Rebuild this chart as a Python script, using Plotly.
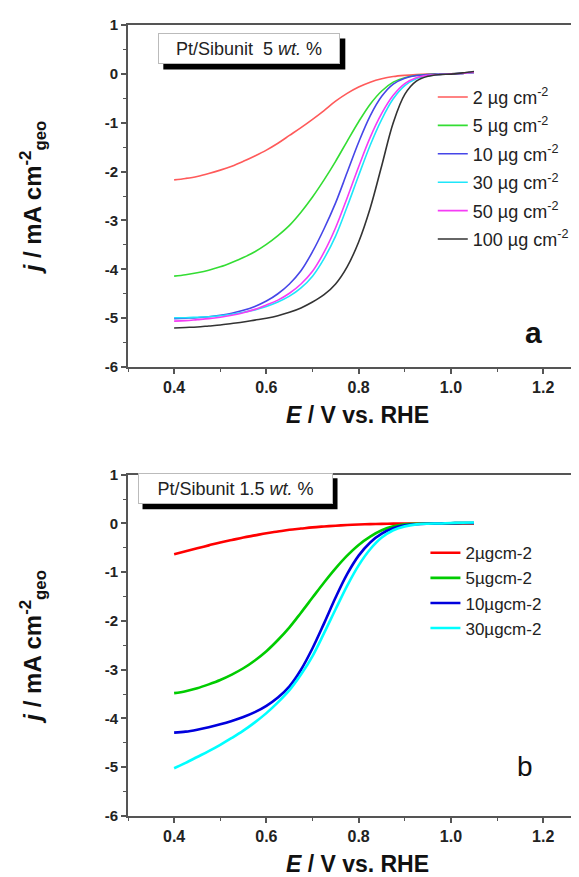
import plotly.graph_objects as go

# ---------------- data ----------------
E = [0.400, 0.425, 0.450, 0.475, 0.500, 0.525, 0.550, 0.575, 0.600, 0.625, 0.650, 0.675, 0.700,
     0.725, 0.750, 0.775, 0.800, 0.825, 0.850, 0.875, 0.900, 0.925, 0.950, 0.975, 1.000, 1.025, 1.050]

top_names = ["2 µg cm<sup>-2</sup>", "5 µg cm<sup>-2</sup>", "10 µg cm<sup>-2</sup>",
             "30 µg cm<sup>-2</sup>", "50 µg cm<sup>-2</sup>", "100 µg cm<sup>-2</sup>"]
j_top_2 = [-2.17, -2.14, -2.10, -2.04, -1.97, -1.89, -1.79, -1.68, -1.56, -1.42, -1.26, -1.10, -0.93,
           -0.75, -0.56, -0.40, -0.27, -0.17, -0.10, -0.055, -0.03, -0.015, -0.005, 0.0, 0.0, 0.01, 0.03]
j_top_5 = [-4.14, -4.11, -4.07, -4.02, -3.95, -3.86, -3.76, -3.64, -3.49, -3.31, -3.10, -2.83, -2.52,
           -2.17, -1.79, -1.38, -0.98, -0.62, -0.35, -0.17, -0.08, -0.035, -0.015, -0.005, 0.0, 0.01, 0.03]
j_top_10 = [-5.01, -5.00, -4.99, -4.97, -4.94, -4.90, -4.84, -4.76, -4.65, -4.50, -4.30, -4.03, -3.64,
            -3.17, -2.64, -2.02, -1.40, -0.86, -0.46, -0.21, -0.09, -0.035, -0.015, -0.005, 0.0, 0.01, 0.03]
j_top_30 = [-4.99, -4.99, -4.98, -4.97, -4.95, -4.92, -4.88, -4.83, -4.76, -4.67, -4.55, -4.38, -4.14,
            -3.78, -3.32, -2.72, -2.08, -1.46, -0.93, -0.51, -0.24, -0.10, -0.04, -0.01, 0.0, 0.01, 0.03]
j_top_50 = [-5.06, -5.05, -5.03, -5.01, -4.98, -4.94, -4.89, -4.82, -4.73, -4.63, -4.49, -4.30, -4.04,
            -3.65, -3.15, -2.54, -1.90, -1.30, -0.81, -0.44, -0.20, -0.08, -0.03, -0.01, 0.0, 0.01, 0.03]
j_top_100 = [-5.20, -5.19, -5.18, -5.16, -5.14, -5.11, -5.08, -5.04, -5.00, -4.95, -4.88, -4.79, -4.67,
             -4.52, -4.30, -3.95, -3.44, -2.75, -1.88, -1.00, -0.42, -0.15, -0.05, -0.015, -0.005, 0.02, 0.05]
top_colors = ["#ff5a5a", "#33dd33", "#4646e8", "#1ee6fa", "#f53cf5", "#333333"]

bot_names = ["2µgcm-2", "5µgcm-2", "10µgcm-2", "30µgcm-2"]
j_bot_2 = [-0.63, -0.57, -0.51, -0.45, -0.39, -0.34, -0.29, -0.245, -0.20, -0.165, -0.13, -0.105, -0.08,
           -0.062, -0.046, -0.033, -0.022, -0.014, -0.008, -0.004, -0.002, 0.0, 0.0, 0.0, 0.0, 0.0, 0.0]
j_bot_5 = [-3.48, -3.44, -3.38, -3.30, -3.21, -3.10, -2.97, -2.81, -2.62, -2.39, -2.13, -1.83, -1.52,
           -1.21, -0.92, -0.66, -0.44, -0.27, -0.14, -0.06, -0.02, -0.005, 0.0, 0.0, 0.005, 0.01, 0.01]
j_bot_10 = [-4.29, -4.27, -4.23, -4.18, -4.12, -4.05, -3.97, -3.87, -3.74, -3.57, -3.34, -3.00, -2.56,
            -2.05, -1.52, -1.04, -0.66, -0.39, -0.21, -0.10, -0.04, -0.015, -0.005, 0.0, 0.005, 0.01, 0.01]
j_bot_30 = [-5.02, -4.91, -4.79, -4.67, -4.54, -4.40, -4.25, -4.08, -3.89, -3.67, -3.42, -3.10, -2.72,
            -2.25, -1.76, -1.28, -0.86, -0.53, -0.29, -0.14, -0.06, -0.02, -0.005, 0.0, 0.01, 0.015, 0.02]
bot_colors = ["#ff0000", "#00cc00", "#0000dd", "#00ffff"]

y_ticks = [1, 0, -1, -2, -3, -4, -5, -6]
y_ticktext = ["1", "0", "-1", "-2", "-3", "-4", "-5", "-6"]
x_ticks = [0.4, 0.6, 0.8, 1.0, 1.2]
x_ticktext = ["0.4", "0.6", "0.8", "1.0", "1.2"]

box_top = "Pt/Sibunit  5 <i>wt.</i> %"
box_bot = "Pt/Sibunit 1.5 <i>wt.</i> %"

FONT = "Liberation Sans"

fig = go.Figure()

top_series = [j_top_2, j_top_5, j_top_10, j_top_30, j_top_50, j_top_100]
for name, ys, col in zip(top_names, top_series, top_colors):
    fig.add_trace(go.Scatter(x=E, y=ys, mode="lines", name=name, legendgroup="t" + name,
                             line=dict(color=col, width=1.6, shape="spline", smoothing=1.0),
                             xaxis="x", yaxis="y", legend="legend"))

bot_series = [j_bot_2, j_bot_5, j_bot_10, j_bot_30]
for name, ys, col in zip(bot_names, bot_series, bot_colors):
    fig.add_trace(go.Scatter(x=E, y=ys, mode="lines", name=name, legendgroup="b" + name,
                             line=dict(color=col, width=2.6, shape="spline", smoothing=1.0),
                             xaxis="x2", yaxis="y2", legend="legend2"))

def xaxis_cfg(anchor):
    return dict(
        anchor=anchor, range=[0.3, 1.295], showline=True, linecolor="#555555", linewidth=2,
        mirror=True, ticks="outside", ticklen=5, tickwidth=1.5, tickcolor="#555555",
        tickvals=x_ticks, ticktext=x_ticktext,
        minor=dict(ticks="outside", ticklen=3, tickwidth=1.2, tickcolor="#555555", dtick=0.1),
        showgrid=False, zeroline=False,
        tickfont=dict(family=FONT, size=16, color="#222222", weight="bold"),
        title=dict(text="<i>E</i> / V vs. RHE", font=dict(family=FONT, size=23, color="#111111", weight="bold"),
                   standoff=12),
    )

def yaxis_cfg(anchor, domain):
    return dict(
        anchor=anchor, domain=domain, range=[-6, 1], showline=True, linecolor="#555555", linewidth=2,
        ticks="outside", ticklen=5, tickwidth=1.5, tickcolor="#555555",
        tickvals=y_ticks, ticktext=y_ticktext,
        minor=dict(ticks="outside", ticklen=3, tickwidth=1.2, tickcolor="#555555", dtick=0.5),
        showgrid=False, zeroline=False,
        tickfont=dict(family=FONT, size=15, color="#222222", weight="bold"),
        title=dict(text="<i>j</i> / mA cm<sup>-2</sup><sub>geo</sub>",
                   font=dict(family=FONT, size=24, color="#111111", weight="bold"), standoff=56),
    )

fig.update_layout(
    width=579, height=877,
    margin=dict(l=120, r=0, t=17, b=69),
    paper_bgcolor="white", plot_bgcolor="white",
    xaxis=xaxis_cfg("y"),
    yaxis=yaxis_cfg("x", [0.5676, 1.0]),
    xaxis2=xaxis_cfg("y2"),
    yaxis2=yaxis_cfg("x2", [0.0, 0.4315]),
    legend=dict(x=0.664, y=0.932, xanchor="left", yanchor="top", bgcolor="rgba(0,0,0,0)",
                font=dict(family=FONT, size=18, color="#222222"), tracegroupgap=2),
    legend2=dict(x=0.648, y=0.355, xanchor="left", yanchor="top", bgcolor="rgba(0,0,0,0)",
                 font=dict(family=FONT, size=17, color="#222222"), tracegroupgap=0),
    showlegend=True,
)

# text boxes with drop shadows (shadow drawn as a pixel-sized rectangle anchored on the box centre)
for xr, yr, txt, xc, yc, w in [("x", "y", box_top, 0.563, 0.51, 176),
                               ("x2", "y2", box_bot, 0.532, 0.71, 189)]:
    half_w = (w + 6) / 2.0
    half_h = 31 / 2.0
    fig.add_shape(type="rect", xref=xr, yref=yr, xsizemode="pixel", ysizemode="pixel",
                  xanchor=xc, yanchor=yc, x0=-half_w + 5, x1=half_w + 5, y0=-half_h - 5, y1=half_h - 5,
                  fillcolor="black", line=dict(width=0), layer="above")
    fig.add_annotation(xref=xr, yref=yr, x=xc, y=yc, text=txt, showarrow=False,
                       font=dict(family=FONT, size=18, color="#222222"),
                       bgcolor="white", bordercolor="#bbbbbb", borderwidth=1, borderpad=2,
                       width=w, height=25)

fig.add_annotation(xref="x", yref="y", x=1.178, y=-5.3, text="a", showarrow=False,
                   font=dict(family=FONT, size=30, color="#111111", weight="bold"))
fig.add_annotation(xref="x2", yref="y2", x=1.16, y=-4.98, text="b", showarrow=False,
                   font=dict(family=FONT, size=28, color="#111111"))

fig.write_html("out.html")
